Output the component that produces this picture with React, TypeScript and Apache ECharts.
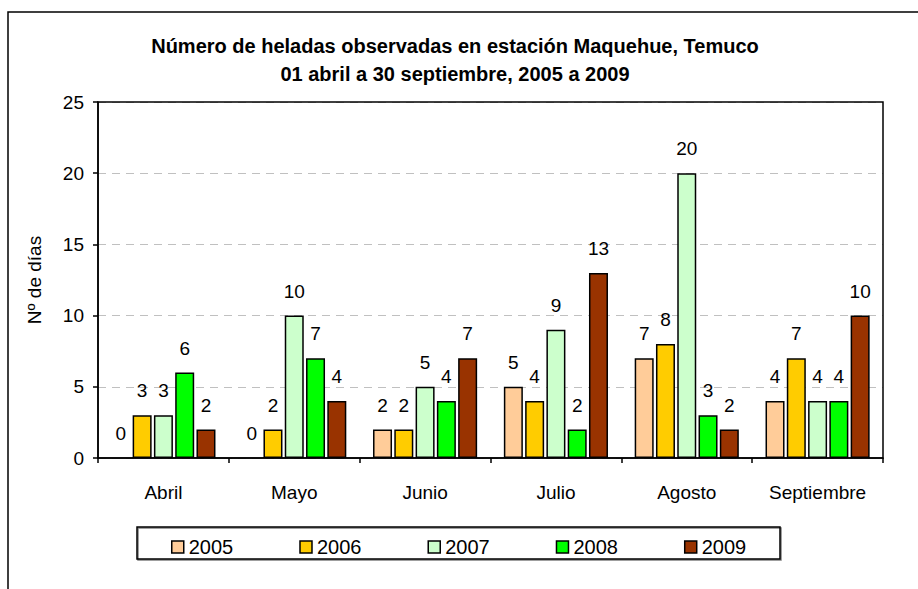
import React, { useEffect, useRef } from "react";
import * as echarts from "echarts";

const categories = ["Abril", "Mayo", "Junio", "Julio", "Agosto", "Septiembre"];
const years = ["2005", "2006", "2007", "2008", "2009"];
const s2005 = [0, 0, 2, 5, 7, 4];
const s2006 = [3, 2, 2, 4, 8, 7];
const s2007 = [3, 10, 5, 9, 20, 4];
const s2008 = [6, 7, 4, 2, 3, 4];
const s2009 = [2, 4, 7, 13, 2, 10];
const yTicks = { min: 0, max: 25, interval: 5 };
const colors = ["#FFCC99", "#FFCC00", "#CCFFCC", "#00FF00", "#993300"];

const FONT = "'Liberation Sans', Arial, sans-serif";

export default function App() {
  const ref = useRef<HTMLDivElement>(null);
  useEffect(() => {
    if (!ref.current) return;
    const chart = echarts.init(ref.current, null, { renderer: "svg" });
    const allSeries = [s2005, s2006, s2007, s2008, s2009];
    chart.setOption({
      animation: false,
      backgroundColor: "#fff",
      textStyle: { fontFamily: FONT },
      title: {
        text: "Número de heladas observadas en estación Maquehue, Temuco\n01 abril a 30 septiembre, 2005 a 2009",
        left: 450,
        top: 27,
        textAlign: "center",
        textStyle: {
          fontFamily: FONT,
          fontWeight: "bold",
          fontSize: 20,
          lineHeight: 28,
          color: "#000",
        },
      },
      graphic: [
        {
          type: "rect",
          shape: { x: 8, y: 12, width: 2000, height: 2000 },
          style: { fill: "none", stroke: "#000", lineWidth: 1.5 },
          silent: true,
          z: -10,
        },
        {
          type: "rect",
          shape: { x: 98, y: 102, width: 785, height: 356 },
          style: { fill: "none", stroke: "#000", lineWidth: 1.5 },
          silent: true,
          z: 1,
        },
        {
          type: "rect",
          shape: { x: 137, y: 527, width: 643, height: 32 },
          style: { fill: "none", stroke: "#000", lineWidth: 1.5, shadowColor: "rgba(0,0,0,0.5)", shadowOffsetX: 1, shadowOffsetY: 1, shadowBlur: 0 },
          silent: true,
        },
      ],
      legend: {
        data: years,
        left: 166,
        top: 532,
        itemWidth: 12,
        itemHeight: 12,
        itemGap: 66,
        icon: "rect",
        itemStyle: { borderColor: "#000", borderWidth: 1.5 },
        textStyle: { fontFamily: FONT, fontSize: 20, color: "#000" },
      },
      grid: {
        left: 98,
        right: 35,
        top: 102,
        bottom: 131,
        show: false,
      },
      xAxis: {
        type: "category",
        data: categories,
        axisLine: { lineStyle: { color: "#000", width: 1.5 } },
        axisTick: { show: true, length: 5, lineStyle: { color: "#000", width: 1.5 } },
        axisLabel: { fontFamily: FONT, fontSize: 19, color: "#000", margin: 25 },
      },
      yAxis: {
        type: "value",
        min: yTicks.min,
        max: yTicks.max,
        interval: yTicks.interval,
        name: "Nº de días",
        nameLocation: "middle",
        nameGap: 54,
        nameTextStyle: { fontFamily: FONT, fontSize: 19, color: "#000" },
        axisLine: { show: true, lineStyle: { color: "#000", width: 1.5 } },
        axisTick: { show: true, length: 5, lineStyle: { color: "#000", width: 1.5 } },
        axisLabel: { fontFamily: FONT, fontSize: 19, color: "#000", margin: 14 },
        splitLine: { show: true, lineStyle: { color: "#c0c0c0", type: [8, 6], width: 1 } },
      },
      series: years.map((y, i) => ({
        name: y,
        type: "bar",
        barWidth: 19,
        barGap: "12%",
        data: allSeries[i].map((v) =>
          v === 0 ? { value: v, itemStyle: { borderWidth: 0 } } : v
        ),
        itemStyle: { color: colors[i], borderColor: "#000", borderWidth: 1.5 },
        label: {
          show: true,
          position: "top",
          distance: 15,
          fontFamily: FONT,
          fontSize: 19,
          color: "#000",
        },
      })),
    });
    return () => chart.dispose();
  }, []);
  return (
    <div
      ref={ref}
      style={{ position: "fixed", left: 0, top: 0, width: 918, height: 589 }}
    />
  );
}
